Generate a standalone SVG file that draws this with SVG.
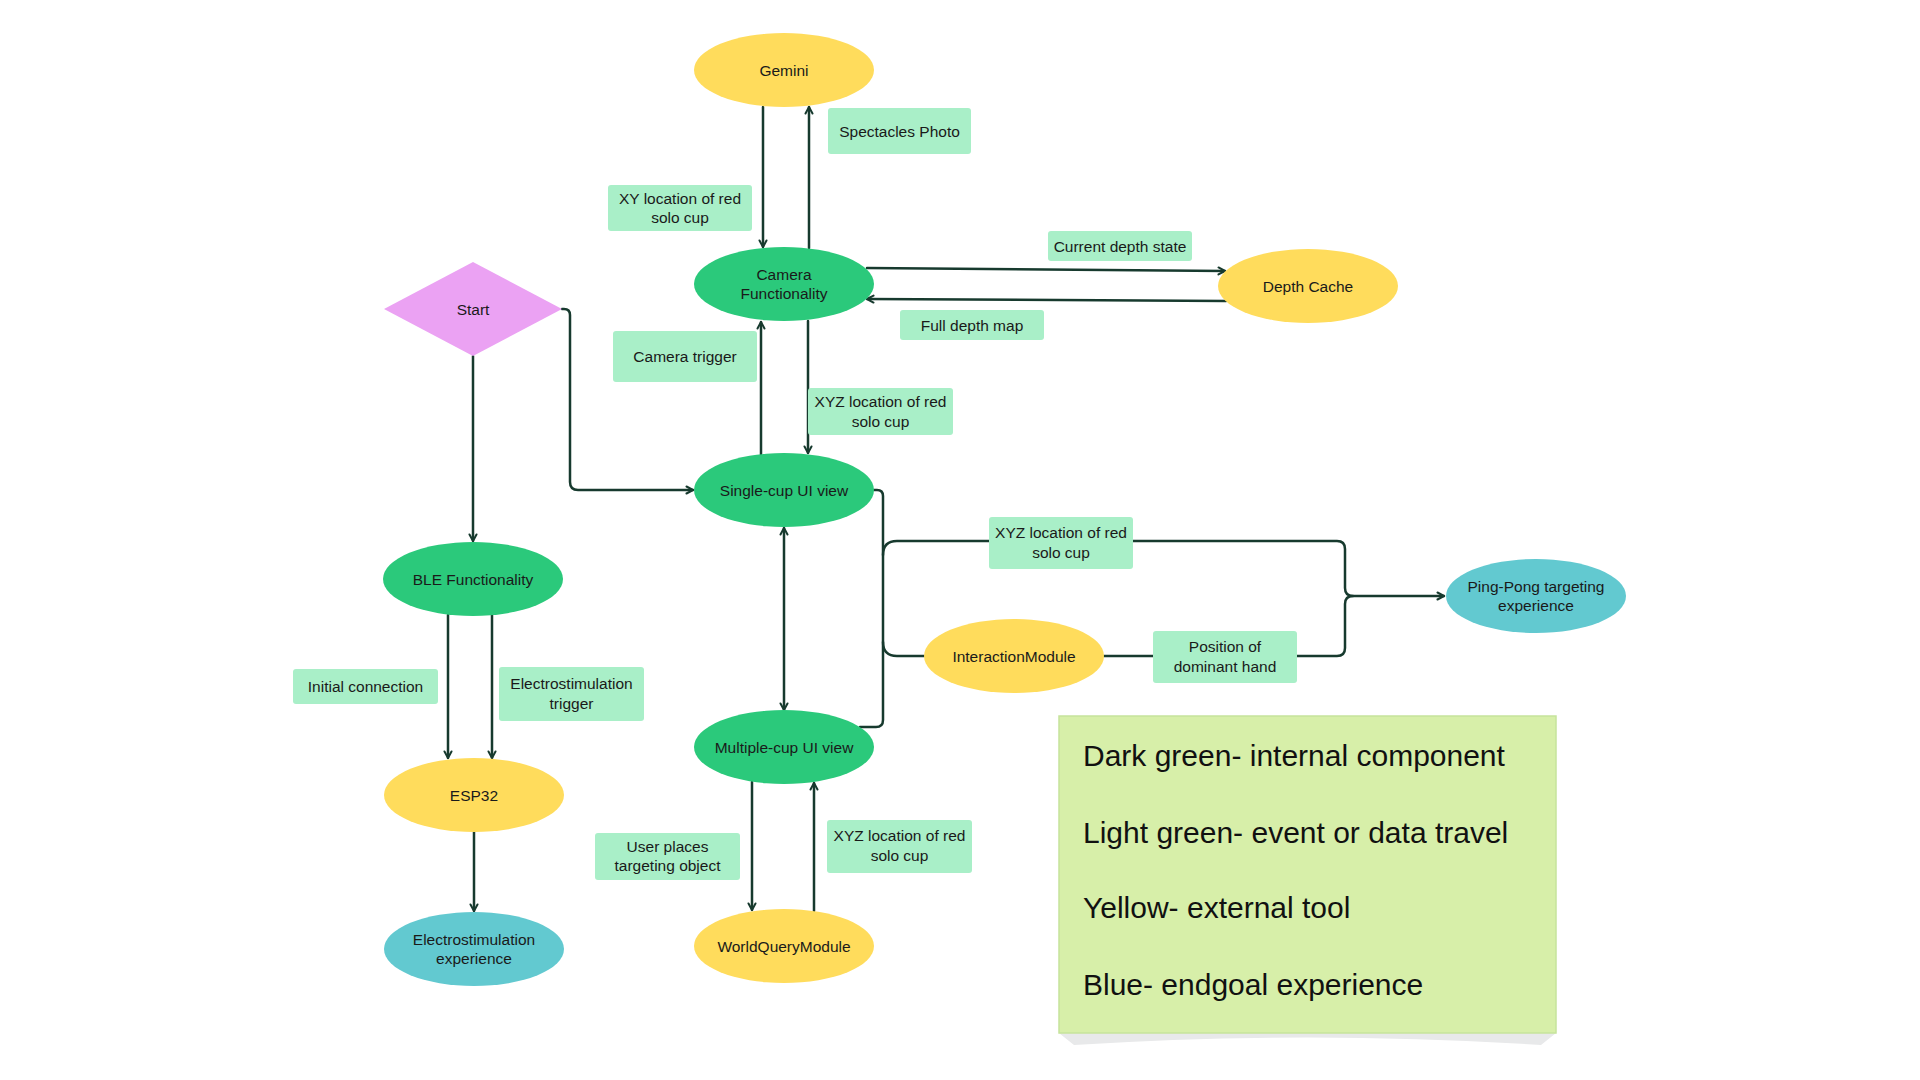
<svg xmlns="http://www.w3.org/2000/svg" width="1920" height="1080" viewBox="0 0 1920 1080">
  <defs>
    <marker id="arr" viewBox="0 0 10 10" refX="9" refY="5" markerWidth="10" markerHeight="10" markerUnits="userSpaceOnUse" orient="auto-start-reverse">
      <path d="M2.5,1.5 L9,5 L2.5,8.5" fill="none" stroke="#173a2e" stroke-width="2" stroke-linecap="round" stroke-linejoin="round"/>
    </marker>
    <style>
      .t { font-family: "Liberation Sans", Arial, sans-serif; font-size: 15.5px; fill: #1a1a1a; text-anchor: middle; }
      .lg { font-family: "Liberation Sans", Arial, sans-serif; font-size: 30px; fill: #111111; }
      .dk { fill: #2bc97b; }
      .yl { fill: #ffdc5c; }
      .bl { fill: #62c9d0; }
      .pk { fill: #eba2f3; }
      .lb { fill: #a9efc8; }
      .c { fill: none; stroke: #173a2e; stroke-width: 2.5; stroke-linecap: round; stroke-linejoin: round; }
      .a { marker-end: url(#arr); }
      .a2 { marker-start: url(#arr); marker-end: url(#arr); }
    </style>
  </defs>
  <rect width="1920" height="1080" fill="#ffffff"/>

  <g id="connectors">
    <path class="c a" d="M763,107 L763,247"/>
    <path class="c a" d="M809,248 L809,107"/>
    <path class="c a" d="M867,268 L1225,271"/>
    <path class="c a" d="M1226,301 L867,299"/>
    <path class="c a" d="M562,309 L564,309 Q570,309 570,315 L570,482 Q570,490 578,490 L693,490"/>
    <path class="c a" d="M473,356 L473,541"/>
    <path class="c a" d="M761,455 L761,322"/>
    <path class="c a" d="M808,321 L808,453"/>
    <path class="c a2" d="M784,528 L784,710"/>
    <path class="c" d="M874,490 L877,490 Q883,490 883,496 L883,720 Q883,727 876,727 L860,727"/>
    <path class="c a" d="M883,555 Q883,541 897,541 L1337,541 Q1345,541 1345,549 L1345,588 Q1345,596 1353,596 L1444,596"/>
    <path class="c" d="M883,642 Q883,656 897,656 L924,656"/>
    <path class="c" d="M1104,656 L1337,656 Q1345,656 1345,648 L1345,604 Q1345,596 1353,596"/>
    <path class="c a" d="M448,615 L448,758"/>
    <path class="c a" d="M492,615 L492,758"/>
    <path class="c a" d="M474,832 L474,911"/>
    <path class="c a" d="M752,782 L752,910"/>
    <path class="c a" d="M814,911 L814,783"/>
  </g>

  <g id="node-gemini">
    <ellipse class="yl" cx="784" cy="70" rx="90" ry="37"/>
    <text class="t" x="784" y="75.5">Gemini</text>
  </g>
  <g id="node-camera">
    <ellipse class="dk" cx="784" cy="284" rx="90" ry="37"/>
    <text class="t" x="784" y="279.5">Camera</text>
    <text class="t" x="784" y="298.5">Functionality</text>
  </g>
  <g id="node-depth-cache">
    <ellipse class="yl" cx="1308" cy="286" rx="90" ry="37"/>
    <text class="t" x="1308" y="291.5">Depth Cache</text>
  </g>
  <g id="node-start">
    <polygon class="pk" points="473,262 562,309 473,356 384,309"/>
    <text class="t" x="473" y="314.5">Start</text>
  </g>
  <g id="node-single-cup">
    <ellipse class="dk" cx="784" cy="490" rx="90" ry="37"/>
    <text class="t" x="784" y="495.5">Single-cup UI view</text>
  </g>
  <g id="node-multiple-cup">
    <ellipse class="dk" cx="784" cy="747" rx="90" ry="37"/>
    <text class="t" x="784" y="752.5">Multiple-cup UI view</text>
  </g>
  <g id="node-worldquery">
    <ellipse class="yl" cx="784" cy="946" rx="90" ry="37"/>
    <text class="t" x="784" y="951.5">WorldQueryModule</text>
  </g>
  <g id="node-ble">
    <ellipse class="dk" cx="473" cy="579" rx="90" ry="37"/>
    <text class="t" x="473" y="584.5">BLE Functionality</text>
  </g>
  <g id="node-esp32">
    <ellipse class="yl" cx="474" cy="795" rx="90" ry="37"/>
    <text class="t" x="474" y="800.5">ESP32</text>
  </g>
  <g id="node-electro-experience">
    <ellipse class="bl" cx="474" cy="949" rx="90" ry="37"/>
    <text class="t" x="474" y="944.5">Electrostimulation</text>
    <text class="t" x="474" y="963.5">experience</text>
  </g>
  <g id="node-interaction">
    <ellipse class="yl" cx="1014" cy="656" rx="90" ry="37"/>
    <text class="t" x="1014" y="661.5">InteractionModule</text>
  </g>
  <g id="node-pingpong">
    <ellipse class="bl" cx="1536" cy="596" rx="90" ry="37"/>
    <text class="t" x="1536" y="592">Ping-Pong targeting</text>
    <text class="t" x="1536" y="611">experience</text>
  </g>

  <g id="labels">
    <g id="label-spectacles">
      <rect class="lb" x="828" y="108" width="143" height="46" rx="3"/>
      <text class="t" x="899.5" y="136.5">Spectacles Photo</text>
    </g>
    <g id="label-xy">
      <rect class="lb" x="608" y="185" width="144" height="46" rx="3"/>
      <text class="t" x="680" y="203.5">XY location of red</text>
      <text class="t" x="680" y="223">solo cup</text>
    </g>
    <g id="label-current-depth">
      <rect class="lb" x="1048" y="231" width="144" height="30" rx="3"/>
      <text class="t" x="1120" y="251.5">Current depth state</text>
    </g>
    <g id="label-full-depth">
      <rect class="lb" x="900" y="310" width="144" height="30" rx="3"/>
      <text class="t" x="972" y="330.5">Full depth map</text>
    </g>
    <g id="label-camera-trigger">
      <rect class="lb" x="613" y="331" width="144" height="51" rx="3"/>
      <text class="t" x="685" y="362">Camera trigger</text>
    </g>
    <g id="label-xyz-upper">
      <rect class="lb" x="808" y="388" width="145" height="47" rx="3"/>
      <text class="t" x="880.5" y="406.5">XYZ location of red</text>
      <text class="t" x="880.5" y="426.5">solo cup</text>
    </g>
    <g id="label-xyz-middle">
      <rect class="lb" x="989" y="517" width="144" height="52" rx="3"/>
      <text class="t" x="1061" y="538">XYZ location of red</text>
      <text class="t" x="1061" y="558">solo cup</text>
    </g>
    <g id="label-position">
      <rect class="lb" x="1153" y="631" width="144" height="52" rx="3"/>
      <text class="t" x="1225" y="652">Position of</text>
      <text class="t" x="1225" y="672">dominant hand</text>
    </g>
    <g id="label-initial">
      <rect class="lb" x="293" y="669" width="145" height="35" rx="3"/>
      <text class="t" x="365.5" y="692">Initial connection</text>
    </g>
    <g id="label-electro-trigger">
      <rect class="lb" x="499" y="667" width="145" height="54" rx="3"/>
      <text class="t" x="571.5" y="689">Electrostimulation</text>
      <text class="t" x="571.5" y="709">trigger</text>
    </g>
    <g id="label-user-places">
      <rect class="lb" x="595" y="833" width="145" height="47" rx="3"/>
      <text class="t" x="667.5" y="851.5">User places</text>
      <text class="t" x="667.5" y="871">targeting object</text>
    </g>
    <g id="label-xyz-lower">
      <rect class="lb" x="827" y="820" width="145" height="53" rx="3"/>
      <text class="t" x="899.5" y="841">XYZ location of red</text>
      <text class="t" x="899.5" y="861">solo cup</text>
    </g>
  </g>

  <g id="legend">
    <path d="M1059,1033 L1556,1033 L1541,1045 Q1308,1030 1074,1045 Z" fill="#e8e9ea"/>
    <rect x="1059" y="716" width="497" height="317" fill="#d7efa9" stroke="#c6e49c" stroke-width="1.5"/>
    <text class="lg" x="1083" y="766">Dark green- internal component</text>
    <text class="lg" x="1083" y="843">Light green- event or data travel</text>
    <text class="lg" x="1083" y="918">Yellow- external tool</text>
    <text class="lg" x="1083" y="995">Blue- endgoal experience</text>
  </g>
</svg>
